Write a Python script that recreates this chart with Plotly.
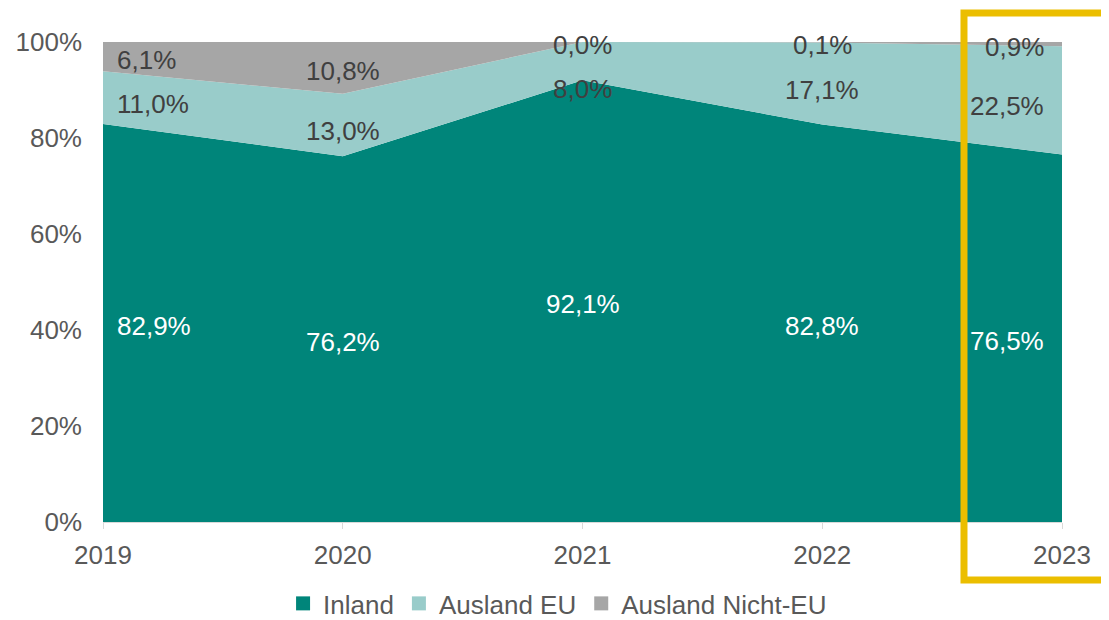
import plotly.graph_objects as go

# Data
years = [2019, 2020, 2021, 2022, 2023]
inland = [82.9, 76.2, 92.1, 82.8, 76.5]
ausland_eu = [11.0, 13.0, 8.0, 17.1, 22.5]
ausland_nicht_eu = [6.1, 10.8, 0.0, 0.1, 0.9]

series = [
    ("Inland", inland, "#00857A", "white"),
    ("Ausland EU", ausland_eu, "#99CCCA", "#404040"),
    ("Ausland Nicht-EU", ausland_nicht_eu, "#A6A6A6", "#404040"),
]

FONT = "Liberation Sans, Arial, sans-serif"

fig = go.Figure()

for name, vals, color, _ in series:
    fig.add_trace(go.Scatter(
        x=years, y=vals, name=name, mode="none",
        stackgroup="one", groupnorm="percent",
        fillcolor=color, line=dict(width=0),
        showlegend=False, hoverinfo="skip",
    ))
    # legend entry with square marker
    fig.add_trace(go.Scatter(
        x=[None], y=[None], name=name, mode="markers",
        marker=dict(symbol="square", size=14, color=color),
    ))

# data labels at segment centres
base = [0.0] * len(years)
for name, vals, color, txtcol in series:
    for i, yr in enumerate(years):
        total = inland[i] + ausland_eu[i] + ausland_nicht_eu[i]
        lo = base[i] / total * 100
        hi = (base[i] + vals[i]) / total * 100
        mid = (lo + hi) / 2
        if i == 0:
            xa, xs = "left", 12
        elif i == len(years) - 1:
            xa, xs = "right", -16
        else:
            xa, xs = "center", 0
        ys = -3
        if name == "Ausland EU":
            ys = -6
            if yr == 2021:
                ys = -28
        fig.add_annotation(
            x=yr, y=mid, text=f"{vals[i]:.1f}%".replace(".", ","),
            showarrow=False, xanchor=xa, xshift=xs, yshift=ys,
            font=dict(family=FONT, size=26, color=txtcol),
        )
        base[i] += vals[i]

# highlight box around 2023
fig.add_shape(
    type="rect", xref="paper", yref="paper",
    x0=0.8978, x1=1.1, y0=-0.1208, y1=1.0604,
    line=dict(color="#EBBE00", width=7), fillcolor="rgba(0,0,0,0)",
    layer="above",
)

fig.update_layout(
    width=1101, height=612,
    margin=dict(l=95, r=47, t=34, b=98, autoexpand=False),
    paper_bgcolor="white", plot_bgcolor="white",
    font=dict(family=FONT, size=26, color="#595959"),
    showlegend=True,
    legend=dict(
        orientation="h", x=0.474, xanchor="center",
        yref="container", y=0.027, yanchor="middle",
        font=dict(size=26, color="#595959"), itemwidth=30,
        traceorder="normal", tracegroupgap=0,
    ),
    xaxis=dict(
        range=[2019, 2023], tickvals=years, ticktext=[str(y) for y in years],
        showgrid=False, zeroline=False, automargin=False,
        showline=True, linecolor="#D9D9D9", linewidth=1,
        ticks="outside", ticklen=6, tickcolor="#D9D9D9",
        ticklabelstandoff=4,
    ),
    yaxis=dict(
        range=[0, 100], tickvals=[0, 20, 40, 60, 80, 100],
        ticktext=["0%", "20%", "40%", "60%", "80%", "100%"],
        showgrid=False, zeroline=False, showline=False, automargin=False,
        ticks="", ticklabelstandoff=20,
    ),
)

fig.write_html("out.html")
